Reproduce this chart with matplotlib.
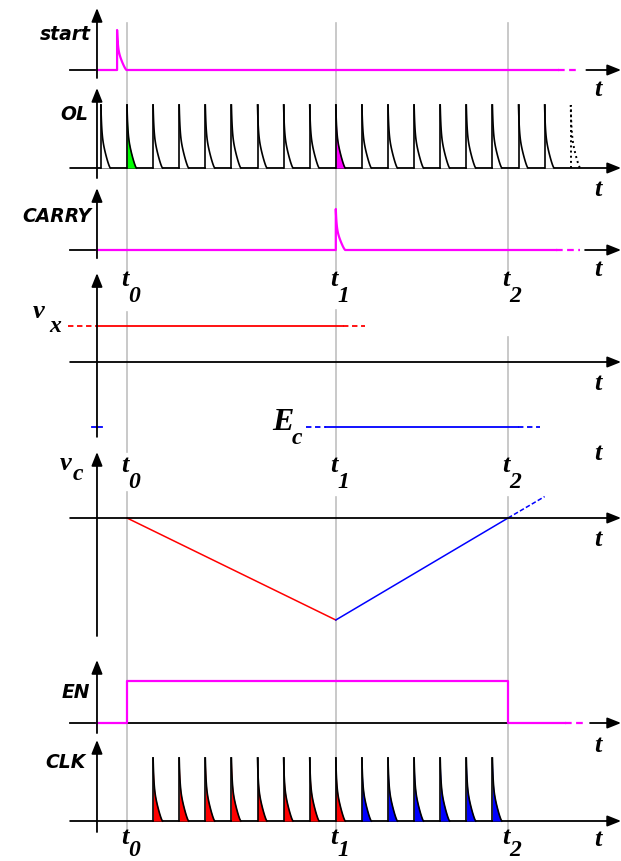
#!/usr/bin/env python3

import numpy as np
import matplotlib
matplotlib.use('Agg')
from matplotlib import pyplot as plt

W, H = 621, 861
PX_PER_T = 26.1   # pixels per clock period
X_T0 = 127        # pixel column of t0

# time is measured in clock periods, t0 = 1
t0, t1, t2 = 1.0, 9.0, 15.6
t_yaxis = -0.15
t_left, t_right = -1.18, 19.93

# signal data
start_pulses = [0.62]
ol_pulses = [0, 1, 2, 3, 4, 5, 6, 7, 8, 9, 10, 11, 12, 13, 14, 15, 16, 17]
ol_dotted = [18]
ol_marked = {1: '#00ff00', 9: '#ff00ff'}
carry_pulses = [9.0]
clk_red = [2, 3, 4, 5, 6, 7, 8, 9]
clk_blue = [10, 11, 12, 13, 14, 15]

vx_level = 1.0
ec_level = -1.8
vc_down_t, vc_down_v = [t0, t1], [0.0, -1.0]
vc_up_t, vc_up_v = [t1, t2], [-1.0, 0.0]
vc_ext_t, vc_ext_v = [t2, 17.0], [0.0, 0.21]
en_t = [t_yaxis, t0, t0, t2, t2, 17.78]
en_v = [0, 0, 1, 1, 0, 0]

MAG = '#ff00ff'
RED = '#ff0000'
BLUE = '#0000ff'
GREY = '#c0c0c0'

sans = dict(family='DejaVu Sans', weight='bold', style='italic', fontsize=13.5)
serif = dict(family='Liberation Serif', weight='bold', style='italic', fontsize=19)
serif_sub = dict(family='Liberation Serif', weight='bold', style='italic', fontsize=17)

TAIL_LEN = 0.36


def px2t(x):
    return t0 + (x - X_T0) / PX_PER_T


fig = plt.figure(figsize=(W / 100, H / 100), dpi=100)
fig.patch.set_facecolor('white')

# background axes: x in time units, y in pixels (for grey markers and labels)
bg = fig.add_axes([0, 0, 1, 1])
bg.set_xlim(px2t(0), px2t(W))
bg.set_ylim(H, 0)
bg.set_axis_off()


def panel(base, unit):
    ax = fig.add_axes([0, 0, 1, 1])
    ax.set_xlim(px2t(0), px2t(W))
    ax.set_ylim((base - H) / unit, base / unit)
    ax.set_axis_off()
    ax.patch.set_visible(False)
    return ax


def arrow(ax, x0, y0, x1, y1):
    ax.annotate('', xy=(x1, y1), xytext=(x0, y0),
                arrowprops=dict(arrowstyle='-|>,head_length=0.75,head_width=0.3',
                                color='k', lw=1.3, mutation_scale=11,
                                shrinkA=0, shrinkB=0))


def pulse_shape(p, h):
    # fast drop to about half height, then a slower tail
    s = np.linspace(0, TAIL_LEN, 40)
    fast = 0.45 * np.exp(-s / 0.03)
    slow = 0.55 * np.clip(1 - s / TAIL_LEN, 0, None) ** 1.3
    y = fast + slow
    y[-1] = 0.0
    return p + s, h * y


def draw_pulse(ax, p, h=1.0, fill=None, color='k', ls='-', lw=1.2):
    xs, ys = pulse_shape(p, h)
    if fill is not None:
        ax.fill_between(xs, ys, 0, color=fill, lw=0, zorder=3)
    ax.plot([p, p], [0, h], color=color, lw=lw, ls=ls, zorder=4)
    ax.plot(xs, ys, color=color, lw=lw, ls=ls, zorder=4)


def pulse_line(pulses, t_end, h=1.0):
    xs, ys = [t_yaxis], [0.0]
    for p in pulses:
        px, py = pulse_shape(p, h)
        xs += [p, p] + list(px)
        ys += [0.0, h] + list(py)
    xs.append(t_end)
    ys.append(0.0)
    return xs, ys


# grey time markers
for tx, segs in [(t0, [(23, 272), (312, 452), (492, 832)]),
                 (t1, [(23, 270), (310, 457), (497, 832)]),
                 (t2, [(23, 270), (337, 457), (497, 832)])]:
    for y0, y1 in segs:
        bg.plot([tx, tx], [y0, y1], color=GREY, lw=1.2, zorder=0)

# ---- start ----
ax = panel(70, 40)
ax.plot([t_left, t_yaxis], [0, 0], color='k', lw=1.3)
xs, ys = pulse_line(start_pulses, 17.51)
ax.plot(xs, ys, color=MAG, lw=1.6)
ax.plot([17.51, 18.36], [0, 0], color=MAG, lw=1.6, ls=(0, (3, 2)))
arrow(ax, 18.6, 0, t_right, 0)
arrow(ax, t_yaxis, -0.2, t_yaxis, 1.55)

# ---- OL ----
ax = panel(168, 63)
arrow(ax, t_left, 0, t_right, 0)
arrow(ax, t_yaxis, -0.16, t_yaxis, 1.27)
for p in ol_pulses:
    draw_pulse(ax, p, fill=ol_marked.get(p, 'white'))
for p in ol_dotted:
    draw_pulse(ax, p, ls=':', lw=1.4)

# ---- CARRY ----
ax = panel(250, 41)
ax.plot([t_left, t_yaxis], [0, 0], color='k', lw=1.3)
xs, ys = pulse_line(carry_pulses, 17.44)
ax.plot(xs, ys, color=MAG, lw=1.6)
ax.plot([17.44, 18.36], [0, 0], color=MAG, lw=1.6, ls=(0, (3, 2)))
arrow(ax, 18.55, 0, t_right, 0)
arrow(ax, t_yaxis, -0.2, t_yaxis, 1.51)

# ---- vx / Ec ----
ax = panel(362, 36)
arrow(ax, t_left, 0, t_right, 0)
arrow(ax, t_yaxis, -2.08, t_yaxis, 2.47)
ax.plot([-1.26, t_yaxis], [vx_level] * 2, color=RED, lw=1.3, ls=(0, (3, 2)))
ax.plot([t_yaxis, 9.28], [vx_level] * 2, color=RED, lw=1.3)
ax.plot([9.28, 10.12], [vx_level] * 2, color=RED, lw=1.3, ls=(0, (3, 2)))
ax.plot([-0.34, 0.04], [ec_level] * 2, color=BLUE, lw=1.3)
ax.plot([7.86, 8.62], [ec_level] * 2, color=BLUE, lw=1.3, ls=(0, (3, 2)))
ax.plot([8.62, 15.98], [ec_level] * 2, color=BLUE, lw=1.3)
ax.plot([15.98, 16.82], [ec_level] * 2, color=BLUE, lw=1.3, ls=(0, (3, 2)))

# ---- vc ----
ax = panel(518, 102)
arrow(ax, t_left, 0, t_right, 0)
arrow(ax, t_yaxis, -1.157, t_yaxis, 0.647)
ax.plot(vc_down_t, vc_down_v, color=RED, lw=1.1)
ax.plot(vc_up_t, vc_up_v, color=BLUE, lw=1.1)
ax.plot(vc_ext_t, vc_ext_v, color=BLUE, lw=1.1, ls=(0, (3, 1.5)))

# ---- EN ----
ax = panel(723, 42)
ax.plot([t_left, t2], [0, 0], color='k', lw=1.3)
ax.plot(en_t, en_v, color=MAG, lw=1.6)
ax.plot([17.78, 18.6], [0, 0], color=MAG, lw=1.6, ls=(0, (3, 2)))
arrow(ax, 18.74, 0, t_right, 0)
arrow(ax, t_yaxis, -0.24, t_yaxis, 1.5)

# ---- CLK ----
ax = panel(821, 63)
arrow(ax, t_left, 0, t_right, 0)
arrow(ax, t_yaxis, -0.175, t_yaxis, 1.286)
for p in clk_red:
    draw_pulse(ax, p, fill=RED)
for p in clk_blue:
    draw_pulse(ax, p, fill=BLUE)

# ---- labels ----
for name, xr, yc in [('start', 91, 34), ('OL', 88, 115), ('CARRY', 91, 216),
                     ('EN', 90, 692), ('CLK', 86, 763)]:
    bg.text(px2t(xr), yc, name, ha='right', va='center', **sans)

for yc in [90, 189, 270, 383, 453, 540, 745, 839]:
    bg.text(px2t(598), yc, 't', ha='center', va='center', **serif)


def tlabel(tx, y, sub, dy=17):
    bg.text(tx - 0.08, y, 't', ha='center', va='center', **serif)
    bg.text(tx + 0.28, y + dy, sub, ha='center', va='center', **serif_sub)


for y, dy in [(280, 17), (465, 17), (837, 14)]:
    tlabel(t0, y, '0', dy)
    tlabel(t1, y, '1', dy)
    tlabel(t2, y, '2', dy)

bg.text(px2t(39), 312, 'v', ha='center', va='center', **serif)
bg.text(px2t(55), 326, 'x', ha='center', va='center', **serif_sub)
bg.text(px2t(66), 463, 'v', ha='center', va='center', **serif)
bg.text(px2t(78), 475, 'c', ha='center', va='center', **serif_sub)
bg.text(px2t(283), 423, 'E', ha='center', va='center',
        family='Liberation Serif', weight='bold', style='italic', fontsize=23)
bg.text(px2t(297), 438, 'c', ha='center', va='center', **serif_sub)

fig.savefig('out.png', dpi=100, facecolor='white')
